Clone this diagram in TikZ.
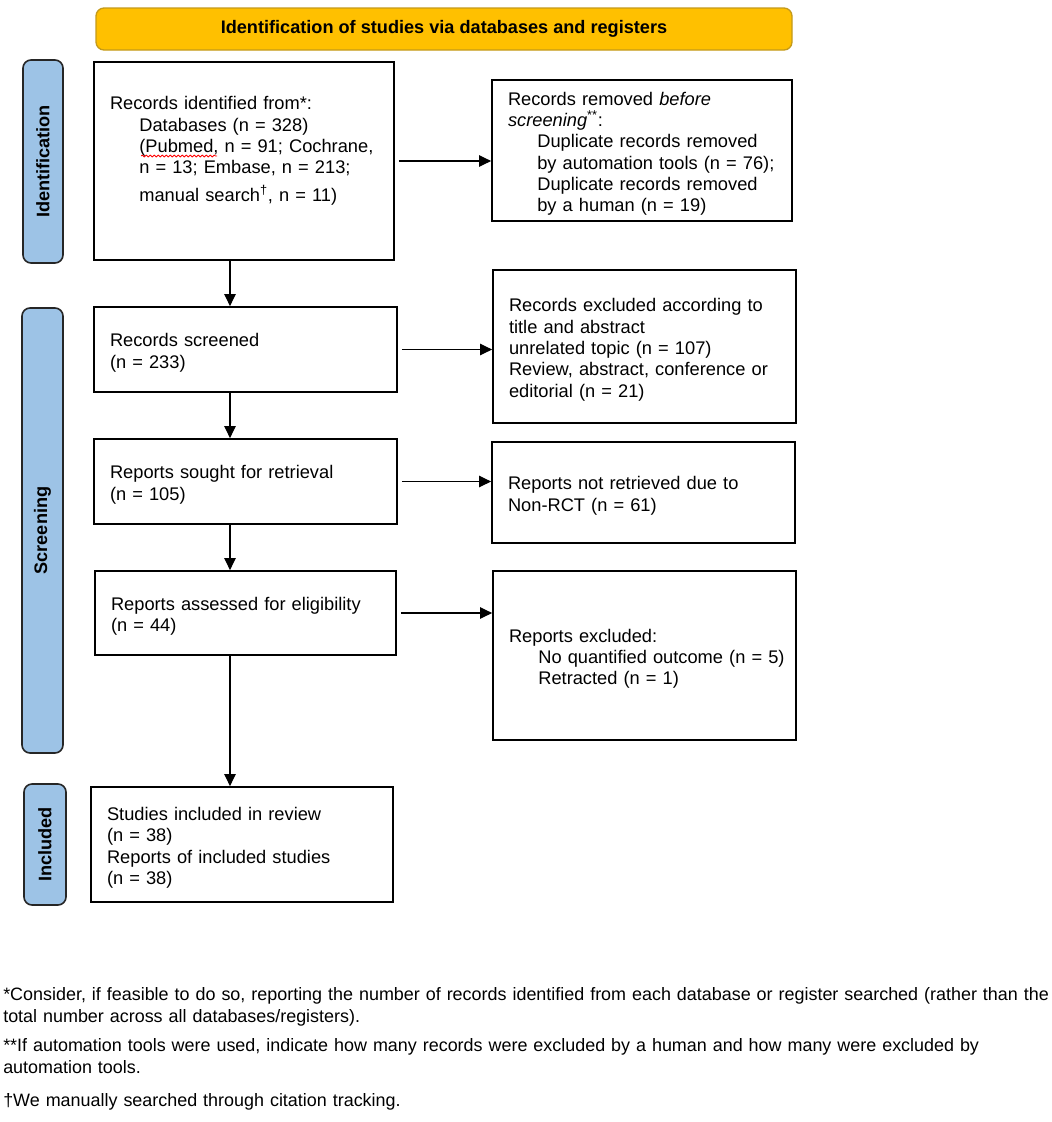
\documentclass[tikz,border=0pt]{standalone}
\usepackage{fontspec}
\setmainfont{Liberation Sans}
\usepackage{xcolor}
\usetikzlibrary{arrows.meta,decorations.pathmorphing}

\definecolor{bannerfill}{HTML}{FFC000}
\definecolor{bannerdraw}{HTML}{C49A1A}
\definecolor{labfill}{HTML}{9DC3E6}

\tikzset{
	box/.style={draw=black, line width=1.3pt, rectangle, inner xsep=12pt, inner ysep=0pt, align=left, font=\fontsize{13.7}{16}\selectfont, execute at end node={\par\vspace*{-5pt}}},
	sidelab/.style={draw=black!85, line width=1.2pt, fill=labfill, rounded corners=6pt, rotate=90, inner sep=0pt, font=\bfseries\fontsize{13.6}{16}\selectfont},
	arr/.style={line width=0.9pt, -{Triangle[length=9pt,width=8.5pt]}},
	fnote/.style={anchor=base west, inner sep=0pt, text width=820pt, align=left, font=\fontsize{13.45}{16.5}\selectfont}
}

\begin{document}
\begin{tikzpicture}[x=0.75pt, y=-0.75pt]
	% Parameters
	\def\ind{\hspace*{22pt}}
	\useasboundingbox (0,0) rectangle (1052,1122);
	
	%banner
	\node[draw=bannerdraw, line width=1pt, fill=bannerfill, rounded corners=6pt, minimum width=522pt, minimum height=31.5pt, font=\bfseries\fontsize{13.6}{16}\selectfont] (banner) at (444,29) {Identification of studies via databases and registers};
	
	%side labels
	\node[sidelab, minimum width=152.25pt, minimum height=30pt] (labid) at (43,161.5) {Identification};
	\node[sidelab, minimum width=333.75pt, minimum height=30.75pt] (labscr) at (42.5,530.5) {Screening};
	\node[sidelab, minimum width=90.75pt, minimum height=31.5pt] (labinc) at (45,844.5) {Included};
	
	%boxes
	\node[box, text width=201pt, minimum height=148.5pt] (ident) at (244,161) {Records identified from*:\\
		\ind Databases (n = 328)\\
		\ind (Pubmed, n = 91; Cochrane,\\
		\ind n = 13; Embase, n = 213;\\[5pt]
		\ind manual search\textsuperscript{†}, n = 11)\par\vspace*{20pt}};
	\node[box, text width=201pt, minimum height=105.75pt] (removed) at (642,150.5) {Records removed \textit{before}\\
		\textit{screening}\textsuperscript{**}:\\
		\ind Duplicate records removed\\
		\ind by automation tools (n = 76);\\
		\ind Duplicate records removed\\
		\ind by a human (n = 19)};
	\node[box, text width=203.25pt, minimum height=63.75pt] (screened) at (245.5,349.5) {Records screened\\(n = 233)};
	\node[box, text width=203.25pt, minimum height=114.75pt] (exclta) at (644.5,346.5) {Records excluded according to\\
		title and abstract\\
		unrelated topic (n = 107)\\
		Review, abstract, conference or\\
		editorial (n = 21)};
	\node[box, text width=203.25pt, minimum height=63.75pt] (sought) at (245.5,481.5) {Reports sought for retrieval\\(n = 105)};
	\node[box, text width=203.25pt, minimum height=75.75pt] (notret) at (643.5,492.5) {Reports not retrieved due to\\Non-RCT (n = 61)};
	\node[box, text width=201.75pt, minimum height=63pt] (assessed) at (245.5,613) {Reports assessed for eligibility\\(n = 44)};
	\node[box, text width=203.25pt, minimum height=126.75pt] (exclrep) at (644.5,655.5) {Reports excluded:\\
		\ind\mbox{No quantified outcome (n = 5)}\\
		\ind Retracted (n = 1)};
	\node[box, text width=202.5pt, minimum height=86.25pt] (incl) at (242,844.5) {Studies included in review\\
		(n = 38)\\
		Reports of included studies\\
		(n = 38)};
	
	%spell check mark
	\draw[red, line width=0.6pt, decorate, decoration={snake, amplitude=0.7pt, segment length=3pt}] (141,156) -- (217,156);
	
	%arrows
	\coordinate (xa) at (230,0);
	\draw[arr] (ident.south -| xa) -- (screened.north -| xa);
	\draw[arr] (screened.south -| xa) -- (sought.north -| xa);
	\draw[arr] (sought.south -| xa) -- (assessed.north -| xa);
	\draw[arr] (assessed.south -| xa) -- (incl.north -| xa);
	\draw[arr, shorten <=3pt] (ident.east) -- (ident.east -| removed.west);
	\draw[arr, shorten <=3pt] (screened.east) -- (screened.east -| exclta.west);
	\draw[arr, shorten <=3pt] (sought.east) -- (sought.east -| notret.west);
	\draw[arr, shorten <=3pt] (assessed.east) -- (assessed.east -| exclrep.west);
	
	%footnotes
	\node[fnote] (fn1) at (3,1000) {*Consider, if feasible to do so, reporting the number of records identified from each database or register searched (rather than the\\total number across all databases/registers).};
	\node[fnote] (fn2) at (3,1051) {**If automation tools were used, indicate how many records were excluded by a human and how many were excluded by\\automation tools.};
	\node[fnote] (fn3) at (3,1106) {†We manually searched through citation tracking.};
\end{tikzpicture}
\end{document}
